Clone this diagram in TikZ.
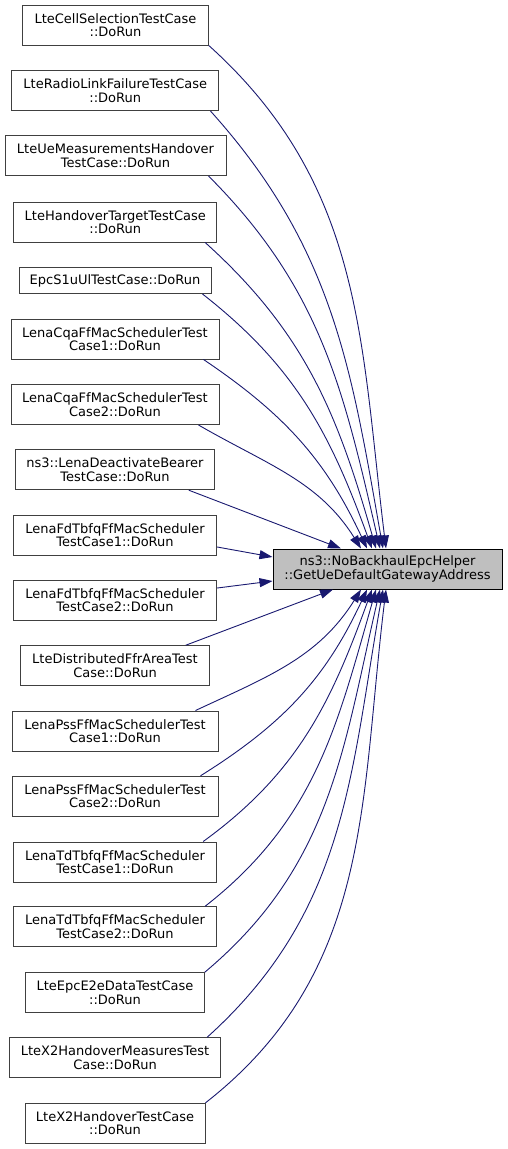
\documentclass[tikz,border=0pt]{standalone}
\usepackage{fontspec}
\setmainfont{DejaVu Sans}
\usetikzlibrary{
  arrows.meta % For arrow tips
}
\definecolor{callblue}{HTML}{191970}
\definecolor{boxgray}{HTML}{404040}
\definecolor{mainfill}{HTML}{BFBFBF}

\begin{document}
\begin{tikzpicture}[
    x=1pt, y=1pt,
    >={Triangle[length=13pt, width=9pt]}, % Default arrow tip
    caller/.style={draw=boxgray, line width=1pt, align=center,
      font=\fontsize{13}{13.5}\selectfont, inner xsep=2pt, inner ysep=2pt,
      minimum height=40pt}, % Style for calling functions
    callee/.style={caller, draw=black, fill=mainfill}, % Style for called function
    call/.style={callblue, line width=0.9pt, ->}, % Style for call arrows
  ]
  \useasboundingbox (0,0) rectangle (508,-1149);
  % Aufgerufene Funktion
  \node[callee, minimum width=229pt] (gwAddr) at (387.5,-569)
    {ns3::NoBackhaulEpcHelper\\::GetUeDefaultGatewayAddress};
  % Aufrufer
  \node[caller, minimum width=185.6pt] (cellSel) at (115.5,-25)
    {LteCellSelectionTestCase\\::DoRun};
  \node[caller, minimum width=207.3pt] (radioLink) at (115.3,-90.5)
    {LteRadioLinkFailureTestCase\\::DoRun};
  \node[caller, minimum width=221pt] (ueMeas) at (115.5,-155.5)
    {LteUeMeasurementsHandover\\TestCase::DoRun};
  \node[caller, minimum width=202.7pt] (hoTarget) at (115.3,-222)
    {LteHandoverTargetTestCase\\::DoRun};
  \node[caller, minimum width=192pt, minimum height=26pt] (epcUl) at (115,-280.5)
    {EpcS1uUlTestCase::DoRun};
  \node[caller, minimum width=208pt] (cqaOne) at (115,-339)
    {LenaCqaFfMacSchedulerTest\\Case1::DoRun};
  \node[caller, minimum width=208pt] (cqaTwo) at (115,-404.5)
    {LenaCqaFfMacSchedulerTest\\Case2::DoRun};
  \node[caller, minimum width=198.6pt] (deact) at (115,-469.7)
    {ns3::LenaDeactivateBearer\\TestCase::DoRun};
  \node[caller, minimum width=203.4pt] (fdtbOne) at (115,-535)
    {LenaFdTbfqFfMacScheduler\\TestCase1::DoRun};
  \node[caller, minimum width=203.4pt] (fdtbTwo) at (115,-600)
    {LenaFdTbfqFfMacScheduler\\TestCase2::DoRun};
  \node[caller, minimum width=188.6pt] (ffrArea) at (115,-665.7)
    {LteDistributedFfrAreaTest\\Case::DoRun};
  \node[caller, minimum width=206pt] (pssOne) at (115,-731)
    {LenaPssFfMacSchedulerTest\\Case1::DoRun};
  \node[caller, minimum width=206pt] (pssTwo) at (115,-796.3)
    {LenaPssFfMacSchedulerTest\\Case2::DoRun};
  \node[caller, minimum width=203.4pt] (tdtbOne) at (115,-862)
    {LenaTdTbfqFfMacScheduler\\TestCase1::DoRun};
  \node[caller, minimum width=203.4pt] (tdtbTwo) at (115,-926.7)
    {LenaTdTbfqFfMacScheduler\\TestCase2::DoRun};
  \node[caller, minimum width=178.6pt] (e2eData) at (115,-992.7)
    {LteEpcE2eDataTestCase\\::DoRun};
  \node[caller, minimum width=211.4pt] (xtwoMeas) at (115,-1057.7)
    {LteX2HandoverMeasuresTest\\Case::DoRun};
  \node[caller, minimum width=180pt] (xtwoHo) at (115,-1123.3)
    {LteX2HandoverTestCase\\::DoRun};
  % Aufrufe von oben
  \draw[call] (cellSel.south east) to[out=-42, in=97] ([xshift=-1.5pt]gwAddr.north);
  \draw[call] ([xshift=-9pt]radioLink.south east) to[out=-48, in=100] ([xshift=-4.5pt]gwAddr.north);
  \draw[call] ([xshift=-18pt]ueMeas.south east) to[out=-45, in=103] ([xshift=-7.5pt]gwAddr.north);
  \draw[call] ([xshift=-12pt]hoTarget.south east) to[out=-42, in=106] ([xshift=-11.5pt]gwAddr.north);
  \draw[call] ([xshift=-9pt]epcUl.south east) to[out=-38, in=110] ([xshift=-15.5pt]gwAddr.north);
  \draw[call] ([xshift=-16pt]cqaOne.south east) to[out=-34, in=115] ([xshift=-20.5pt]gwAddr.north);
  \draw[call] ([xshift=-21pt]cqaTwo.south east) to[out=-30, in=122] ([xshift=-26.5pt]gwAddr.north);
  \draw[call] ([xshift=-26pt]deact.south east) -- ([xshift=-46.5pt]gwAddr.north);
  % Aufrufe von links
  \draw[call] ([yshift=-12pt]fdtbOne.east) -- ([yshift=12pt]gwAddr.west);
  \draw[call] ([yshift=12pt]fdtbTwo.east) -- ([yshift=-12pt]gwAddr.west);
  % Aufrufe von unten
  \draw[call] ([xshift=-24pt]ffrArea.north east) -- ([xshift=-54.5pt]gwAddr.south);
  \draw[call] ([xshift=-23pt]pssOne.north east) to[out=25, in=-122] ([xshift=-26.5pt]gwAddr.south);
  \draw[call] ([xshift=-18pt]pssTwo.north east) to[out=32, in=-115] ([xshift=-20.5pt]gwAddr.south);
  \draw[call] ([xshift=-14pt]tdtbOne.north east) to[out=36, in=-110] ([xshift=-15.5pt]gwAddr.south);
  \draw[call] ([xshift=-12pt]tdtbTwo.north east) to[out=38, in=-106] ([xshift=-11.5pt]gwAddr.south);
  \draw[call] (e2eData.north east) to[out=40, in=-103] ([xshift=-7.5pt]gwAddr.south);
  \draw[call] ([xshift=-14pt]xtwoMeas.north east) to[out=42, in=-100] ([xshift=-4.5pt]gwAddr.south);
  \draw[call] (xtwoHo.north east) to[out=38, in=-97] ([xshift=-1.5pt]gwAddr.south);
\end{tikzpicture}
\end{document}
